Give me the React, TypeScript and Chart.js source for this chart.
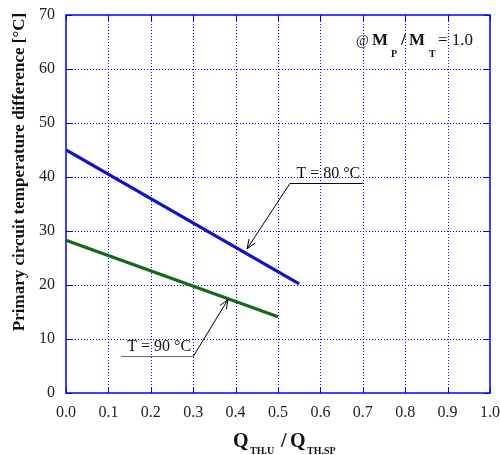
import React, { useEffect, useRef } from 'react';
import { Chart, registerables } from 'chart.js';

Chart.register(...registerables);

// ---- data ----
const xTickValues = [0, 0.1, 0.2, 0.3, 0.4, 0.5, 0.6, 0.7, 0.8, 0.9, 1.0];
const yTickValues = [0, 10, 20, 30, 40, 50, 60, 70];
const xTickLabels = ['0.0', '0.1', '0.2', '0.3', '0.4', '0.5', '0.6', '0.7', '0.8', '0.9', '1.0'];
const yTickLabels = ['0', '10', '20', '30', '40', '50', '60', '70'];
const ratioT80 = [0.0, 0.55];
const deltaT80 = [45.0, 20.2];
const ratioT90 = [0.0, 0.5];
const deltaT90 = [28.3, 14.1];
const seriesNames = ['T = 80 °C', 'T = 90 °C'];

const SERIF = "'Liberation Serif', 'Times New Roman', serif";

// annotation anchors (data coordinates)
const callouts = [
  { text: seriesNames[0], x1: 0.528, x2: 0.70, y: 38.9, tipX: 0.427, tipY: 26.7, under: '#000000', side: 'left' },
  { text: seriesNames[1], x1: 0.130, x2: 0.300, y: 6.85, tipX: 0.382, tipY: 17.3, under: '#666666', side: 'right' },
];

const decorPlugin = {
  id: 'decor',
  beforeDatasetsDraw(chart: any) {
    const { ctx, chartArea: a, scales } = chart;
    const xs = scales.x, ys = scales.y;
    ctx.save();
    ctx.strokeStyle = '#0000ff';
    ctx.lineWidth = 1;
    ctx.setLineDash([1, 2]);
    xTickValues.forEach((v) => {
      if (v === 0 || v === 1) return;
      const px = Math.round(xs.getPixelForValue(v)) + 0.5;
      ctx.beginPath();
      ctx.moveTo(px, a.top);
      ctx.lineTo(px, a.bottom);
      ctx.stroke();
    });
    yTickValues.forEach((v) => {
      if (v === 0 || v === 70) return;
      const py = Math.round(ys.getPixelForValue(v)) + 0.5;
      ctx.beginPath();
      ctx.moveTo(a.left, py);
      ctx.lineTo(a.right, py);
      ctx.stroke();
    });
    ctx.setLineDash([]);
    const tl = 6;
    xTickValues.forEach((v) => {
      const px = Math.round(xs.getPixelForValue(v)) + 0.5;
      ctx.beginPath();
      ctx.moveTo(px, a.top); ctx.lineTo(px, a.top + tl);
      ctx.moveTo(px, a.bottom); ctx.lineTo(px, a.bottom - tl);
      ctx.stroke();
    });
    yTickValues.forEach((v) => {
      const py = Math.round(ys.getPixelForValue(v)) + 0.5;
      ctx.beginPath();
      ctx.moveTo(a.left, py); ctx.lineTo(a.left + tl, py);
      ctx.moveTo(a.right, py); ctx.lineTo(a.right - tl, py);
      ctx.stroke();
    });
    ctx.lineWidth = 1.5;
    ctx.strokeRect(a.left, a.top, a.right - a.left, a.bottom - a.top);

    // tick labels
    ctx.fillStyle = '#222';
    ctx.font = `16px ${SERIF}`;
    ctx.textAlign = 'center';
    ctx.textBaseline = 'middle';
    xTickValues.forEach((v, i) => {
      ctx.fillText(xTickLabels[i], xs.getPixelForValue(v), a.bottom + 20);
    });
    ctx.textAlign = 'right';
    yTickValues.forEach((v, i) => {
      ctx.fillText(yTickLabels[i], a.left - 11, ys.getPixelForValue(v));
    });
    ctx.restore();
  },
  afterDraw(chart: any) {
    const { ctx, scales } = chart;
    const xs = scales.x, ys = scales.y;
    ctx.save();
    callouts.forEach((c) => {
      const x1 = xs.getPixelForValue(c.x1);
      const x2 = xs.getPixelForValue(c.x2);
      const y = Math.round(ys.getPixelForValue(c.y)) + 0.5;
      const tx = xs.getPixelForValue(c.tipX);
      const ty = ys.getPixelForValue(c.tipY);
      ctx.strokeStyle = c.under;
      ctx.lineWidth = 1.2;
      ctx.beginPath();
      ctx.moveTo(x1, y); ctx.lineTo(x2, y);
      ctx.stroke();
      const sx = c.side === 'left' ? x1 : x2;
      ctx.strokeStyle = '#000000';
      ctx.lineWidth = 1;
      ctx.beginPath();
      ctx.moveTo(sx, y); ctx.lineTo(tx, ty);
      ctx.stroke();
      const ang = Math.atan2(ty - y, tx - sx);
      const L = 10, w = 0.38;
      ctx.beginPath();
      ctx.moveTo(tx - L * Math.cos(ang - w), ty - L * Math.sin(ang - w));
      ctx.lineTo(tx, ty);
      ctx.lineTo(tx - L * Math.cos(ang + w), ty - L * Math.sin(ang + w));
      ctx.stroke();
      ctx.fillStyle = '#111';
      ctx.font = `16px ${SERIF}`;
      ctx.textAlign = 'center';
      ctx.textBaseline = 'alphabetic';
      ctx.fillText(c.text, (x1 + x2) / 2 + 2, y - 5.5);
    });

    // y-axis title
    ctx.fillStyle = '#111';
    ctx.save();
    ctx.translate(20, 172);
    ctx.rotate(-Math.PI / 2);
    ctx.font = `bold 17px ${SERIF}`;
    ctx.textAlign = 'center';
    ctx.textBaseline = 'middle';
    ctx.fillText('Primary circuit temperature difference [°C]', 0, 0);
    ctx.restore();

    ctx.textAlign = 'left';
    ctx.textBaseline = 'alphabetic';
    const put = (t: string, font: string, x: number, y: number) => {
      ctx.font = font;
      ctx.fillText(t, x, y);
    };
    // x-axis title
    const big = `bold 20px ${SERIF}`;
    const sub = `bold 10px ${SERIF}`;
    put('Q', big, 233, 447);
    put('TH.U', sub, 250, 454);
    put('/', big, 281, 447);
    put('Q', big, 290, 447);
    put('TH.SP', sub, 307, 454);

    // ratio note
    const mB = `bold 17px ${SERIF}`;
    const at = `14px ${SERIF}`;
    const norm = `17px ${SERIF}`;
    const s2 = `bold 10px ${SERIF}`;
    put('@', at, 356, 45);
    put('M', mB, 372, 45);
    put('P', s2, 391, 57);
    put('/', mB, 401, 45);
    put('M', mB, 409, 45);
    put('T', s2, 429, 57);
    put('= 1.0', norm, 438, 45);
    ctx.restore();
  },
};

export default function App() {
  const ref = useRef<HTMLCanvasElement | null>(null);
  useEffect(() => {
    document.body.style.margin = '0';
    const canvas = ref.current;
    if (!canvas) return;
    const chart = new Chart(canvas, {
      type: 'line',
      data: {
        datasets: [
          {
            label: seriesNames[0],
            data: ratioT80.map((x, i) => ({ x, y: deltaT80[i] })),
            borderColor: '#1010d0',
            borderWidth: 3.2,
            pointRadius: 0,
            fill: false,
          },
          {
            label: seriesNames[1],
            data: ratioT90.map((x, i) => ({ x, y: deltaT90[i] })),
            borderColor: '#156a15',
            borderWidth: 3.2,
            pointRadius: 0,
            fill: false,
          },
        ],
      },
      options: {
        animation: false,
        responsive: false,
        maintainAspectRatio: false,
        layout: { padding: { left: 0, top: 15, right: 10, bottom: 0 } },
        plugins: { legend: { display: false }, tooltip: { enabled: false } },
        scales: {
          x: {
            type: 'linear',
            min: 0,
            max: 1,
            afterFit: (s: any) => { s.height = 62; },
            ticks: { display: false },
            grid: { display: false, drawTicks: false },
            border: { display: false },
          },
          y: {
            type: 'linear',
            min: 0,
            max: 70,
            afterFit: (s: any) => { s.width = 66; },
            ticks: { display: false },
            grid: { display: false, drawTicks: false },
            border: { display: false },
          },
        },
      },
      plugins: [decorPlugin],
    } as any);
    return () => chart.destroy();
  }, []);
  return (
    <div style={{ position: 'absolute', left: 0, top: 0, width: 500, height: 455, background: '#fff' }}>
      <canvas ref={ref} width={500} height={455} style={{ width: 500, height: 455, display: 'block' }} />
    </div>
  );
}
